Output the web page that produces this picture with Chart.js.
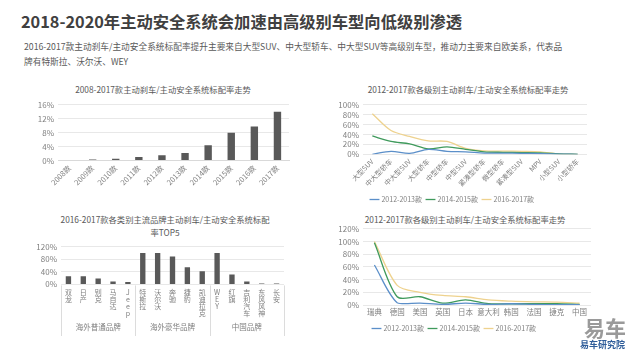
<!DOCTYPE html>
<html>
<head>
<meta charset="utf-8">
<script src="https://cdn.jsdelivr.net/npm/chart.js"></script>
<style>
  body { margin: 0; width: 630px; height: 354px; background: #fff; position: relative; overflow: hidden;
         font-family: 'Noto Sans CJK SC', sans-serif; }
  .title { position: absolute; left: 21px; top: 9px; font-size: 16.3px; font-weight: bold; color: #404040; white-space: nowrap; }
  .sub { position: absolute; left: 24px; top: 39px; font-size: 8.7px; line-height: 15px; color: #595959; white-space: nowrap; }
  .ct { position: absolute; width: 300px; text-align: center; font-size: 8.3px; line-height: 13px; color: #595959; white-space: nowrap; }
  canvas { position: absolute; }
  .logo1 { position: absolute; left: 584px; top: 312px; font-size: 21px; font-weight: bold; color: #9a9a9a; }
  .logo2 { position: absolute; left: 580px; top: 338px; font-size: 9px; font-weight: bold; color: #2f5d9a; }
</style>
</head>
<body>
<div class="title">2018-2020年主动安全系统会加速由高级别车型向低级别渗透</div>
<div class="sub">2016-2017款主动刹车/主动安全系统标配率提升主要来自大型SUV、中大型轿车、中大型SUV等高级别车型，推动力主要来自欧美系，代表品<br>牌有特斯拉、沃尔沃、WEY</div>
<div class="ct" style="left:13px;top:83px">2008-2017款主动刹车/主动安全系统标配率走势</div>
<div class="ct" style="left:318px;top:83px">2012-2017款各级别主动刹车/主动安全系统标配率走势</div>
<div class="ct" style="left:15px;top:213px">2016-2017款各类别主流品牌主动刹车/主动安全系统标配<br>率TOP5</div>
<div class="ct" style="left:315px;top:213px">2012-2017款各级别主动刹车/主动安全系统标配率走势</div>
<canvas id="c1" width="315" height="94" style="left:0;top:96px"></canvas>
<canvas id="c2" width="312" height="117" style="left:318px;top:96px"></canvas>
<canvas id="c3" width="315" height="100" style="left:0;top:238px"></canvas>
<canvas id="c4" width="312" height="122" style="left:318px;top:220px"></canvas>
<div class="logo1">易车</div>
<div class="logo2">易车研究院</div>
<script>
// top-left: yearly rate
const years = ['2008款', '2009款', '2010款', '2011款', '2012款', '2013款', '2014款', '2015款', '2016款', '2017款'];
const rateByYear = [0, 0.3, 0.5, 1.0, 1.5, 2.2, 4.4, 8.0, 9.8, 14.0];

// top-right: by segment
const segments = ['大型SUV', '中大型轿车', '中大型SUV', '大型轿车', '中型轿车', '中型SUV', '紧凑型轿车', '微型轿车', '紧凑型SUV', 'MPV', '小型SUV', '小型轿车'];
const seg1213 = [0, 6, 2, 10, 6, 5, 2.5, 2.5, 2, 1.5, 0.5, 0];
const seg1415 = [37, 26, 21, 11, 15, 10, 5, 4, 3.5, 3, 1, 0];
const seg1617 = [82, 48, 36, 27, 26, 12, 7, 6.5, 6, 5, 1, 0];

// bottom-left: brands top5
const brands = ['双龙', '日产', '别克', '马自达', 'Jeep', '特斯拉', '沃尔沃', '奔驰', '捷豹', '凯迪拉克', 'WEY', '红旗', '吉利汽车', '东风风神', '长安'];
const brandRate = [26, 26, 19, 9, 8, 100, 100, 89, 55, 42, 100, 32, 9, 3, 3];
const groups = ['海外普通品牌', '海外豪华品牌', '中国品牌'];
const groupSizes = [5, 5, 5];

// bottom-right: by country
const countries = ['瑞典', '德国', '美国', '英国', '日本', '意大利', '韩国', '法国', '捷克', '中国'];
const c1213 = [63, 3.5, 3, 1, 3, 1, 2, 1, 0.5, 0.5];
const c1415 = [98, 13, 13, 3, 8, 2, 2, 2, 2, 1];
const c1617 = [100, 31, 20, 15, 13, 8, 6, 5, 4.5, 3];

const seriesNames = ['2012-2013款', '2014-2015款', '2016-2017款'];
const lineColors = ['#5b8fc9', '#3f9a5c', '#eed28e'];

Chart.defaults.font.family = "'Noto Sans CJK SC', sans-serif";
Chart.defaults.font.size = 8;
Chart.defaults.color = '#808080';
Chart.defaults.animation = false;

const gridColor = '#e8e8e8';
const pctTicks = (step) => ({ stepSize: step, autoSkip: false, callback: v => v + '%', padding: 4 });
const fixWidth = (w) => (scale) => { scale.width = w; };

// chart 1
new Chart(document.getElementById('c1'), {
  type: 'bar',
  data: { labels: years, datasets: [{ data: rateByYear, backgroundColor: '#595959', barPercentage: 0.32, categoryPercentage: 1 }] },
  options: {
    responsive: false,
    layout: { padding: { top: 7, right: 26, bottom: 0 } },
    plugins: { legend: { display: false } },
    scales: {
      x: { grid: { display: false, drawTicks: false }, border: { color: '#d9d9d9' },
           ticks: { minRotation: 45, maxRotation: 45, autoSkip: false, padding: 3, font: { size: 7.5 } } },
      y: { min: 0, max: 16, ticks: pctTicks(4), grid: { color: gridColor, drawTicks: false }, border: { display: false },
           afterFit: fixWidth(58) }
    }
  }
});

// line charts
const lineSets = (arrs) => arrs.map((d, i) => ({
  label: seriesNames[i], data: d, borderColor: lineColors[i], backgroundColor: lineColors[i],
  borderWidth: 1.3, pointRadius: 0, tension: 0.3
}));
const legendOpts = {
  position: 'bottom',
  labels: { usePointStyle: true, pointStyle: 'line', boxWidth: 8, padding: 5, color: '#808080', font: { size: 7 } }
};

new Chart(document.getElementById('c2'), {
  type: 'line',
  data: { labels: segments, datasets: lineSets([seg1213, seg1415, seg1617]) },
  options: {
    responsive: false,
    layout: { padding: { top: 7, right: 43 } },
    plugins: { legend: legendOpts },
    scales: {
      x: { offset: true, grid: { display: false, drawTicks: false }, border: { display: false },
           ticks: { minRotation: 45, maxRotation: 45, autoSkip: false, padding: 3, font: { size: 7 } } },
      y: { min: 0, max: 100, ticks: pctTicks(20), grid: { color: gridColor, drawTicks: false }, border: { display: false },
           afterFit: fixWidth(45) }
    }
  }
});

// chart 3
const groupPlugin = {
  id: 'groups',
  afterDraw(chart) {
    const x = chart.scales.x;
    const ctx = chart.ctx;
    const top = x.top + 1;
    const bottom = chart.height - 2;
    const edges = [x.left];
    let n = 0;
    groupSizes.forEach(s => {
      n += s;
      edges.push(n < brands.length ? (x.getPixelForValue(n - 1) + x.getPixelForValue(n)) / 2 : x.right);
    });
    ctx.save();
    ctx.strokeStyle = '#dcdcdc';
    ctx.lineWidth = 1;
    edges.forEach(e => {
      ctx.beginPath();
      ctx.moveTo(Math.round(e) + 0.5, top);
      ctx.lineTo(Math.round(e) + 0.5, bottom);
      ctx.stroke();
    });
    ctx.fillStyle = '#808080';
    ctx.font = "7.5px 'Noto Sans CJK SC'";
    ctx.textAlign = 'center';
    ctx.textBaseline = 'middle';
    groups.forEach((g, i) => ctx.fillText(g, (edges[i] + edges[i + 1]) / 2, bottom - 9));
    ctx.restore();
  }
};

new Chart(document.getElementById('c3'), {
  type: 'bar',
  data: { labels: brands.map(b => b.split('')), datasets: [{ data: brandRate, backgroundColor: '#595959', barPercentage: 0.36, categoryPercentage: 1 }] },
  options: {
    responsive: false,
    layout: { padding: { top: 7, right: 31, bottom: 17 } },
    plugins: { legend: { display: false } },
    scales: {
      x: { grid: { display: false, drawTicks: false }, border: { display: false },
           ticks: { minRotation: 0, maxRotation: 0, autoSkip: false, padding: 4, font: { size: 7, lineHeight: 1.02 } } },
      y: { min: 0, max: 120, ticks: pctTicks(40), grid: { color: gridColor, drawTicks: false }, border: { display: false },
           afterFit: fixWidth(61) }
    }
  },
  plugins: [groupPlugin]
});

// chart 4
new Chart(document.getElementById('c4'), {
  type: 'line',
  data: { labels: countries, datasets: lineSets([c1213, c1415, c1617]) },
  options: {
    responsive: false,
    layout: { padding: { top: 7, right: 39 } },
    plugins: { legend: legendOpts },
    scales: {
      x: { offset: true, grid: { display: false, drawTicks: false }, border: { display: false },
           ticks: { maxRotation: 0, autoSkip: false, padding: 3, font: { size: 7.5 } } },
      y: { min: 0, max: 120, ticks: pctTicks(20), grid: { color: gridColor, drawTicks: false }, border: { display: false },
           afterFit: fixWidth(45) }
    }
  }
});
</script>
</body>
</html>
